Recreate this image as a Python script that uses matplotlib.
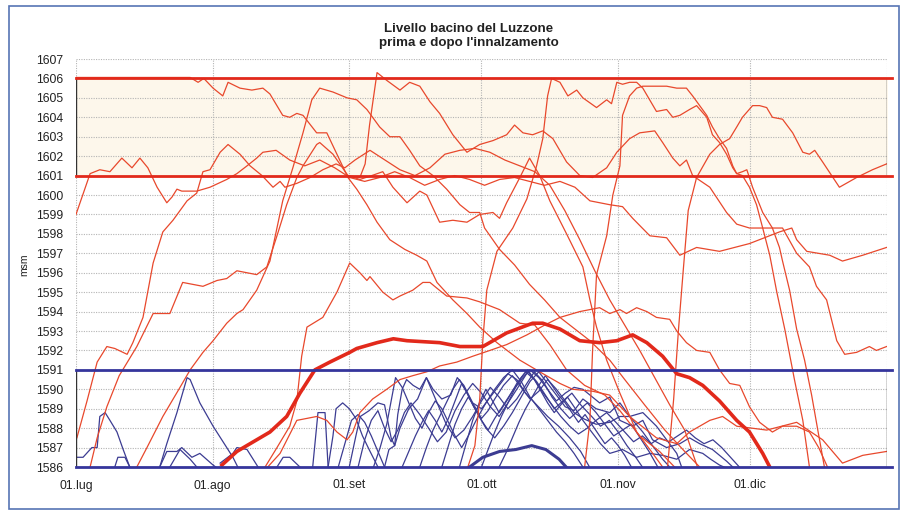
import matplotlib.pyplot as plt
from matplotlib.patches import Rectangle

plt.rcParams['font.family'] = ['Liberation Sans', 'DejaVu Sans']

# x = days since 1 July
month_days = [0, 31, 62, 92, 123, 153, 184]
month_labels = ['01.lug', '01.ago', '01.set', '01.ott', '01.nov', '01.dic', '']
levels = list(range(1586, 1608))
season_end = 184

after_band = (1601, 1606)   # after the raising
before_band = (1586, 1591)  # before the raising

# ---- after the raising (red), one list per year: (day, level msm)
red_1 = [(0, 1606.05), (25.9, 1606.05), (27.7, 1605.8), (29.0, 1606.0), (31.1, 1605.5), (33.3, 1605.1),
         (34.5, 1605.8), (37.2, 1605.5), (39.9, 1605.4), (42.4, 1605.5), (44.0, 1605.2), (46.9, 1604.1),
         (48.5, 1604.0), (50.1, 1604.2), (51.5, 1604.1), (54.6, 1603.2), (56.9, 1603.2), (59.2, 1602.1),
         (61.7, 1600.9), (63.7, 1600.3), (66.0, 1599.5), (68.3, 1598.6), (71.2, 1597.7), (74.6, 1597.2),
         (77.3, 1596.9), (79.6, 1596.6), (81.9, 1595.5), (85.5, 1594.6), (88.7, 1593.9), (91.6, 1593.2),
         (95.5, 1592.4), (100.7, 1591.5), (105.2, 1590.9), (109.8, 1590.3), (112.7, 1590.0), (117.2, 1589.9),
         (121.1, 1589.7), (125.6, 1588.6), (131.7, 1587.5), (136.3, 1587.2), (139.2, 1587.8), (143.8, 1588.4),
         (146.7, 1588.6), (149.9, 1588.1), (156.7, 1587.9), (163.5, 1588.3), (169.4, 1587.4), (173.9, 1586.2),
         (178.5, 1586.6), (183.9, 1586.8)]
red_2 = [(0, 1599.0), (3.2, 1601.1), (5.4, 1601.3), (7.7, 1601.2), (10.4, 1601.9), (12.7, 1601.4), (14.5, 1601.9),
         (16.3, 1601.4), (18.4, 1600.4), (20.6, 1599.6), (21.8, 1599.9), (22.9, 1600.3), (24.0, 1600.2),
         (27.4, 1600.2), (30.4, 1600.4), (34.2, 1600.8), (36.5, 1601.1), (38.8, 1601.5), (41.0, 1601.9),
         (42.4, 1602.2), (45.4, 1602.3), (48.5, 1601.8), (51.9, 1601.5), (55.3, 1601.8), (58.7, 1601.4),
         (62.1, 1600.9), (65.5, 1600.7), (68.9, 1600.9), (72.3, 1601.2), (75.7, 1600.9), (79.1, 1600.5),
         (82.5, 1600.8), (85.9, 1601.0), (89.3, 1600.8), (92.7, 1600.5), (96.1, 1600.8), (99.5, 1600.9),
         (102.9, 1600.7), (106.3, 1600.5), (109.8, 1600.7), (113.2, 1600.4), (116.6, 1599.7), (121.1, 1599.5),
         (124.0, 1599.4), (126.3, 1598.8), (130.2, 1597.9), (134.0, 1597.8), (137.0, 1596.9), (140.8, 1597.3),
         (146.0, 1597.1), (152.8, 1597.5), (159.6, 1598.1), (162.4, 1598.3), (163.5, 1597.7), (165.8, 1597.1),
         (171.0, 1596.9), (173.9, 1596.6), (178.5, 1596.9), (183.9, 1597.3)]
red_3 = [(0.2, 1587.5), (2.5, 1589.4), (4.8, 1591.4), (7.0, 1592.2), (8.8, 1592.1), (11.6, 1591.8), (12.9, 1592.4),
         (15.2, 1593.7), (17.5, 1596.5), (19.7, 1598.1), (22.0, 1598.7), (25.2, 1599.7), (27.4, 1600.1),
         (28.8, 1601.2), (30.4, 1601.3), (32.7, 1602.2), (34.5, 1602.6), (37.2, 1602.1), (39.5, 1601.5),
         (42.2, 1601.0), (44.7, 1600.4), (46.3, 1600.7), (47.4, 1600.4), (50.1, 1600.6), (53.1, 1600.9),
         (56.0, 1601.3), (59.0, 1601.6), (61.0, 1601.4), (63.3, 1601.8), (66.7, 1602.3), (70.1, 1601.8),
         (73.5, 1601.3), (76.9, 1601.0), (80.3, 1601.4), (83.7, 1602.1), (87.1, 1602.3), (90.5, 1602.4),
         (93.9, 1602.2), (97.3, 1601.8), (100.7, 1601.5), (104.1, 1601.2), (107.5, 1600.5), (110.9, 1599.2),
         (114.3, 1597.7), (117.7, 1596.1), (121.1, 1594.6), (124.5, 1593.3), (127.9, 1592.0), (131.3, 1590.6),
         (134.7, 1589.2), (138.1, 1587.9), (141.0, 1586.0)]
red_4 = [(42.9, 1586.0), (45.6, 1587.0), (48.5, 1588.1), (50.1, 1589.4), (51.2, 1591.7), (52.4, 1593.2),
         (56.0, 1593.7), (59.2, 1595.0), (62.1, 1596.5), (64.4, 1596.0), (66.0, 1595.6), (66.7, 1595.8),
         (69.6, 1595.0), (71.9, 1594.6), (73.5, 1594.8), (76.4, 1595.1), (78.7, 1595.5), (80.3, 1595.5),
         (81.9, 1595.2), (84.1, 1594.8), (88.7, 1594.7), (91.6, 1594.5), (96.1, 1594.1), (100.7, 1593.4),
         (104.1, 1593.3), (107.5, 1592.3), (111.3, 1591.0), (115.4, 1590.2), (120.0, 1589.7), (123.4, 1588.9),
         (127.9, 1587.6), (132.4, 1586.8), (135.8, 1586.0)]
red_5 = [(61.7, 1601.0), (64.4, 1600.9), (65.6, 1601.6), (66.6, 1603.6), (68.3, 1606.3), (70.5, 1605.9),
         (73.5, 1605.4), (75.7, 1605.8), (78.0, 1605.6),
         (80.3, 1604.8), (82.5, 1604.2), (85.5, 1603.1), (88.7, 1602.2), (91.6, 1602.6), (94.6, 1602.8),
         (97.7, 1603.1), (99.5, 1603.6), (101.4, 1603.2), (103.6, 1603.1), (105.9, 1603.3), (108.2, 1602.9),
         (111.3, 1601.7), (114.3, 1601.0), (117.2, 1600.9), (120.4, 1601.4), (122.7, 1602.2), (125.6, 1602.9),
         (127.9, 1603.2), (131.3, 1603.3), (133.1, 1602.7), (135.4, 1601.9), (137.0, 1601.5), (138.5, 1601.8),
         (139.9, 1601.0), (143.8, 1600.4), (147.6, 1599.1), (149.9, 1598.5), (152.8, 1598.3), (157.4, 1598.3),
         (160.3, 1598.3), (163.5, 1597.0), (166.4, 1596.3), (168.0, 1595.3), (170.3, 1594.6), (172.6, 1592.5),
         (174.4, 1591.8), (177.1, 1591.9), (180.0, 1592.2), (181.6, 1592.0), (183.9, 1592.2)]
red_6 = [(3.2, 1586.0), (4.8, 1587.5), (7.0, 1589.1), (9.8, 1590.7), (13.8, 1592.2), (17.5, 1593.9),
         (21.3, 1593.9), (24.2, 1595.5), (28.8, 1595.3), (32.0, 1595.6), (34.2, 1595.7), (36.5, 1596.1),
         (41.0, 1595.9), (43.3, 1596.3), (45.6, 1597.9), (47.8, 1599.5), (50.1, 1600.9), (51.5, 1601.5),
         (54.6, 1602.6), (55.3, 1602.7), (58.3, 1602.1), (61.7, 1601.0), (64.4, 1600.8), (67.1, 1601.0),
         (69.6, 1601.2), (71.9, 1600.4), (75.1, 1599.6), (78.0, 1600.2), (79.6, 1600.0), (82.5, 1598.6),
         (85.5, 1598.7), (88.7, 1598.6), (91.6, 1599.0), (94.6, 1599.1), (96.1, 1598.8), (97.7, 1599.6),
         (100.7, 1600.9), (102.9, 1601.9), (105.2, 1601.0), (107.5, 1599.7), (111.3, 1598.0), (115.0, 1596.3),
         (116.6, 1594.6), (118.1, 1593.2), (120.4, 1591.5), (123.4, 1589.8), (127.2, 1587.8), (130.2, 1586.9),
         (133.1, 1586.0)]
red_7 = [(13.8, 1586.0), (16.1, 1587.0), (19.7, 1588.6), (23.6, 1590.1), (25.9, 1591.0), (28.8, 1591.9),
         (31.1, 1592.5), (34.2, 1593.4), (36.5, 1593.9), (37.9, 1594.1), (41.0, 1595.1), (42.4, 1595.8),
         (44.0, 1596.6), (46.9, 1599.7), (49.2, 1601.4), (51.5, 1603.2), (53.5, 1604.9), (55.3, 1605.5),
         (58.3, 1605.3), (61.5, 1605.0), (63.7, 1604.9), (66.0, 1604.4), (68.9, 1603.5), (71.2, 1603.0),
         (73.5, 1603.0), (75.7, 1602.3), (78.0, 1601.5), (81.0, 1601.0), (84.1, 1600.3), (87.1, 1599.5),
         (89.3, 1599.1), (91.6, 1599.1), (92.7, 1598.3), (96.1, 1597.2), (99.5, 1596.4), (102.9, 1595.4),
         (106.3, 1594.6), (109.8, 1593.7), (113.2, 1593.1), (116.6, 1592.5), (121.1, 1591.5), (124.5, 1590.5),
         (129.0, 1589.2), (133.6, 1587.9), (138.1, 1586.8), (141.5, 1586.0)]
red_8 = [(88.9, 1586.0), (90.5, 1587.1), (91.6, 1589.5), (92.3, 1592.5), (93.2, 1595.1), (95.5, 1597.1),
         (99.1, 1598.3), (102.3, 1599.8), (104.5, 1601.5), (105.9, 1602.9), (107.0, 1605.1), (107.9, 1606.0),
         (109.8, 1605.8), (111.6, 1605.1), (113.6, 1605.4), (115.0, 1605.0), (118.1, 1604.5), (120.4, 1604.9),
         (121.5, 1604.7), (122.7, 1605.8), (124.0, 1605.7), (125.6, 1605.8), (127.2, 1605.8), (128.6, 1605.5),
         (131.7, 1604.3), (134.0, 1604.4), (135.4, 1604.0), (137.0, 1604.1), (139.2, 1604.4), (140.8, 1604.6),
         (143.1, 1604.0), (144.4, 1603.1), (146.0, 1602.7), (147.6, 1602.1), (149.0, 1601.4), (149.9, 1601.1),
         (151.2, 1601.2), (152.2, 1601.3), (153.5, 1600.4), (155.8, 1599.1), (158.0, 1598.3), (159.6, 1597.3),
         (160.3, 1596.6), (161.9, 1595.1), (163.5, 1593.1), (165.3, 1591.5), (166.9, 1589.7), (168.3, 1587.9),
         (169.8, 1586.0)]
red_9 = [(43.5, 1586.0), (46.3, 1586.7), (50.1, 1588.4), (54.6, 1588.6), (56.9, 1588.4), (59.2, 1587.8),
         (61.5, 1587.4), (62.8, 1587.8), (64.4, 1588.8), (67.3, 1589.5), (70.5, 1590.0), (73.5, 1590.5),
         (76.4, 1590.7), (79.6, 1590.9), (82.5, 1591.2), (86.4, 1591.4), (90.0, 1591.7), (93.9, 1592.0),
         (97.7, 1592.3), (102.3, 1592.8), (106.3, 1593.3), (109.8, 1593.7), (114.3, 1594.0), (118.8, 1594.2),
         (121.1, 1593.9), (123.4, 1594.1), (124.9, 1593.9), (127.2, 1594.2), (129.5, 1594.0), (131.7, 1593.7),
         (134.7, 1593.6), (136.3, 1593.0), (138.5, 1592.4), (140.8, 1592.0), (143.8, 1591.9), (146.0, 1591.0),
         (148.3, 1590.3), (150.6, 1590.2), (152.8, 1589.1), (155.1, 1588.3), (158.0, 1587.8), (160.3, 1588.1),
         (163.5, 1588.1), (166.4, 1587.8), (168.5, 1587.0), (170.5, 1586.0)]
red_10 = [(115.4, 1586.0), (116.6, 1588.4), (117.2, 1592.0), (118.1, 1595.9), (120.4, 1597.9), (121.8, 1600.0),
          (123.4, 1601.5), (124.0, 1604.1), (125.6, 1605.1), (127.2, 1605.5), (128.6, 1605.6), (130.8, 1605.6),
          (134.0, 1605.6), (136.3, 1605.5), (138.5, 1605.5), (139.9, 1605.1), (141.5, 1604.6), (143.1, 1604.1),
          (144.4, 1603.5), (146.0, 1602.9), (147.6, 1602.4), (149.0, 1601.5), (149.9, 1601.1), (151.2, 1601.0),
          (152.8, 1600.4), (154.4, 1599.5), (155.8, 1598.3), (157.4, 1596.9), (159.0, 1595.0), (160.8, 1593.1),
          (163.0, 1590.5), (164.9, 1588.4), (166.4, 1586.0)]
red_11 = [(134.2, 1586.0), (135.6, 1589.5), (136.7, 1593.1), (137.8, 1596.2), (138.9, 1599.2), (140.8, 1600.9),
          (143.8, 1602.1), (146.0, 1602.6), (148.3, 1602.9), (149.9, 1603.5), (151.2, 1604.0), (153.5, 1604.6),
          (155.1, 1604.6), (156.7, 1604.5), (158.0, 1604.0), (160.3, 1603.9), (162.6, 1603.2), (164.9, 1602.2),
          (166.4, 1602.1), (167.6, 1602.3), (169.4, 1601.7), (173.2, 1600.4), (177.1, 1600.9), (180.7, 1601.3),
          (183.9, 1601.6)]
red_mean = [(33.1, 1586.1), (36.5, 1586.8), (44.0, 1587.8), (47.8, 1588.6), (50.8, 1589.8), (54.2, 1591.0),
            (57.6, 1591.4), (62.1, 1591.9), (63.7, 1592.1), (68.3, 1592.4), (72.0, 1592.6), (75.1, 1592.5),
            (82.5, 1592.4), (87.1, 1592.2), (92.3, 1592.2), (97.7, 1592.9), (103.6, 1593.4), (105.9, 1593.4),
            (109.8, 1593.1), (114.3, 1592.5), (118.8, 1592.4), (122.7, 1592.5), (126.3, 1592.8), (129.5, 1592.4),
            (133.1, 1591.7), (136.3, 1590.8), (139.2, 1590.6), (142.2, 1590.2), (146.0, 1589.4), (149.9, 1588.4),
            (152.8, 1587.8), (155.8, 1586.7), (157.4, 1586.0)]

# ---- before the raising (blue)
blue_1 = [(0.2, 1586.5), (1.6, 1586.5), (3.6, 1587.0), (4.8, 1587.0), (5.4, 1588.6), (6.6, 1588.8), (7.7, 1588.4),
          (9.3, 1587.8), (10.7, 1586.9), (12.2, 1586.0)]
blue_2 = [(8.8, 1586.0), (9.5, 1586.5), (11.1, 1586.5), (12.2, 1586.0)]
blue_3 = [(19.0, 1586.0), (20.6, 1587.2), (22.9, 1588.8), (25.2, 1590.6), (25.9, 1590.5), (28.1, 1589.3),
          (31.1, 1588.1), (34.2, 1587.0), (35.6, 1586.5), (36.7, 1586.0)]
blue_4 = [(19.0, 1586.0), (20.6, 1586.8), (22.9, 1586.8), (24.0, 1587.0), (26.3, 1586.5), (28.1, 1586.7),
          (31.1, 1586.1), (31.7, 1586.0)]
blue_5 = [(21.3, 1586.0), (23.6, 1586.9), (25.9, 1586.4), (27.4, 1586.0)]
blue_6 = [(32.7, 1586.2), (35.6, 1586.7), (36.5, 1587.0), (38.8, 1586.9), (41.3, 1586.0)]
blue_7 = [(45.6, 1586.0), (47.0, 1586.5), (48.5, 1586.5), (50.8, 1586.0)]
blue_8 = [(53.7, 1586.0), (54.9, 1588.8), (56.5, 1588.8), (57.2, 1586.0)]
blue_9 = [(57.2, 1586.0), (58.3, 1587.6), (59.0, 1589.0), (60.5, 1589.3), (62.0, 1589.0), (63.5, 1588.5),
          (65.0, 1587.6), (66.5, 1586.9), (68.5, 1586.0)]
blue_10 = [(59.5, 1586.0), (61.0, 1587.2), (62.5, 1588.4), (64.0, 1588.7), (65.5, 1588.3), (67.0, 1587.6),
           (68.5, 1586.8), (70.0, 1586.0)]
blue_11 = [(62.0, 1586.0), (63.5, 1587.6), (64.5, 1588.6), (66.5, 1588.9), (68.5, 1589.3), (70.0, 1589.2),
           (71.5, 1587.5), (72.3, 1587.1), (73.0, 1588.7), (74.0, 1590.0), (75.0, 1590.5), (76.5, 1590.2),
           (78.0, 1590.0), (79.5, 1590.6), (81.0, 1590.0), (83.0, 1589.5), (85.0, 1589.7), (86.5, 1590.6),
           (88.0, 1590.2), (90.0, 1589.3), (92.0, 1589.0), (94.0, 1589.6), (96.0, 1590.2), (98.0, 1590.8),
           (100.0, 1590.5), (102.0, 1589.8), (104.5, 1589.2), (107.0, 1588.6), (109.5, 1588.1), (112.0, 1587.5),
           (114.5, 1586.8), (116.5, 1586.0)]
blue_12 = [(64.0, 1586.0), (65.5, 1587.4), (67.0, 1588.4), (68.5, 1588.9), (70.0, 1588.0), (71.5, 1587.3),
           (73.0, 1587.9), (74.5, 1588.8), (76.0, 1589.3), (78.0, 1588.7), (80.0, 1588.0), (82.0, 1587.3),
           (84.0, 1587.8), (86.0, 1588.9), (88.0, 1589.7), (90.0, 1590.3), (92.0, 1589.8), (94.0, 1589.1),
           (96.0, 1588.6), (98.0, 1589.3), (100.0, 1590.0), (102.5, 1590.9), (104.5, 1590.4), (106.5, 1589.7),
           (108.5, 1589.0), (110.5, 1589.4), (112.5, 1589.8), (114.5, 1589.2), (117.0, 1588.6), (119.0, 1588.1),
           (121.0, 1588.4), (123.0, 1587.8), (125.0, 1587.1), (127.0, 1586.5), (128.5, 1586.0)]
blue_13 = [(67.5, 1586.0), (69.0, 1587.0), (70.5, 1588.2), (71.5, 1589.4), (72.5, 1590.6), (74.0, 1590.1),
           (75.5, 1589.3), (77.0, 1588.5), (78.5, 1588.0), (80.0, 1588.8), (81.5, 1589.4), (83.0, 1589.0),
           (84.5, 1588.3), (86.0, 1587.6), (87.5, 1587.0), (89.0, 1587.6), (91.0, 1588.5), (93.0, 1589.3),
           (95.0, 1590.0), (97.0, 1590.6), (99.0, 1591.0), (101.0, 1590.4), (103.0, 1589.6), (105.0, 1589.0),
           (107.0, 1588.4), (109.0, 1587.8), (111.0, 1587.3), (113.0, 1586.7), (115.0, 1586.0)]
blue_14 = [(70.0, 1586.0), (71.0, 1586.9), (72.3, 1587.1), (73.5, 1588.0), (75.5, 1589.0), (77.5, 1589.5),
           (79.5, 1590.6), (81.0, 1589.8), (82.5, 1589.0), (84.0, 1588.2), (86.0, 1587.5), (88.0, 1587.9),
           (90.0, 1588.6), (92.0, 1589.4), (94.0, 1590.1), (96.0, 1589.6), (98.0, 1589.0), (100.0, 1589.5),
           (102.0, 1590.2), (104.0, 1590.9), (106.0, 1590.4), (108.0, 1589.6), (110.0, 1589.0), (112.0, 1588.5),
           (114.0, 1588.9), (116.0, 1589.3), (118.0, 1588.8), (120.0, 1588.2), (122.0, 1587.6), (124.0, 1587.9),
           (126.0, 1588.2), (128.0, 1587.5), (130.0, 1586.8), (132.0, 1586.0)]
blue_15 = [(74.0, 1586.0), (75.5, 1586.8), (77.0, 1587.6), (78.5, 1588.3), (80.0, 1588.9), (81.5, 1588.4),
           (83.0, 1587.8), (84.5, 1588.5), (86.0, 1589.4), (87.5, 1590.3), (89.0, 1589.7), (90.5, 1589.0),
           (92.0, 1588.4), (93.5, 1587.9), (95.0, 1588.5), (97.0, 1589.2), (99.0, 1589.9), (101.0, 1590.5),
           (103.0, 1591.0), (105.0, 1590.6), (107.0, 1590.0), (109.0, 1589.4), (111.0, 1589.8), (113.0, 1590.1),
           (115.0, 1590.0), (118.8, 1589.3), (121.1, 1589.6), (123.4, 1588.4), (126.3, 1588.1), (128.6, 1588.4),
           (130.8, 1587.4), (134.0, 1587.0), (137.0, 1587.2), (139.2, 1587.5), (141.5, 1587.2), (144.4, 1586.9),
           (147.6, 1586.3), (149.0, 1586.0)]
blue_16 = [(78.0, 1586.0), (79.5, 1587.0), (81.0, 1587.9), (82.5, 1588.6), (84.0, 1589.3), (85.5, 1590.0),
           (87.0, 1590.5), (88.5, 1589.9), (90.0, 1589.2), (91.5, 1588.6), (93.0, 1588.0), (95.0, 1587.5),
           (97.0, 1588.1), (99.0, 1588.8), (101.0, 1589.6), (103.0, 1590.4), (105.0, 1590.9), (107.0, 1590.3),
           (109.0, 1589.7), (111.0, 1589.1), (113.0, 1588.9), (115.0, 1589.5), (118.0, 1589.0), (121.1, 1588.8),
           (123.4, 1589.3), (125.6, 1588.6), (128.6, 1587.8), (130.8, 1587.1), (133.1, 1586.4), (134.7, 1586.0)]
blue_17 = [(83.0, 1586.0), (84.5, 1587.1), (86.0, 1588.2), (87.5, 1589.0), (89.0, 1589.6), (90.5, 1589.1),
           (92.0, 1588.5), (93.5, 1588.9), (95.0, 1589.5), (97.0, 1590.2), (99.0, 1590.7), (101.0, 1590.1),
           (103.0, 1589.5), (105.0, 1589.9), (107.0, 1590.5), (109.0, 1590.0), (111.0, 1589.4), (113.0, 1588.8),
           (115.0, 1588.5), (118.0, 1588.2), (121.1, 1588.3), (123.4, 1588.6), (125.6, 1588.6), (128.6, 1588.8),
           (131.7, 1588.1), (134.0, 1587.4), (136.3, 1586.7), (137.4, 1586.0)]
blue_18 = [(87.0, 1586.0), (88.5, 1587.2), (90.0, 1588.4), (91.5, 1589.3), (93.0, 1590.0), (94.5, 1589.4),
           (96.0, 1588.8), (98.0, 1589.5), (100.0, 1590.3), (102.0, 1590.9), (104.0, 1590.5), (106.0, 1589.8),
           (108.0, 1589.2), (110.0, 1588.6), (112.0, 1588.1), (114.0, 1587.7), (116.0, 1588.0), (118.0, 1588.4),
           (120.4, 1588.8), (122.5, 1588.3), (124.5, 1587.8), (126.5, 1587.3), (128.5, 1587.6), (130.5, 1587.2),
           (132.4, 1587.5), (134.5, 1587.3), (136.5, 1587.6), (138.5, 1587.9), (140.5, 1587.5), (142.5, 1587.2),
           (144.5, 1587.4), (146.5, 1587.0), (148.5, 1586.5), (150.5, 1586.0)]
blue_19 = [(92.0, 1586.0), (93.5, 1586.9), (95.0, 1587.8), (96.5, 1588.6), (98.0, 1589.3), (99.5, 1590.0),
           (101.0, 1590.6), (102.5, 1591.0), (104.0, 1590.5), (105.5, 1589.9), (107.0, 1589.3), (108.5, 1588.8),
           (110.0, 1589.2), (111.5, 1589.6), (113.0, 1589.1), (115.0, 1588.4), (117.0, 1587.8), (119.0, 1587.2),
           (121.1, 1586.7), (124.0, 1586.9), (127.2, 1586.5), (130.2, 1586.7), (133.1, 1586.6), (136.3, 1586.4),
           (139.2, 1586.9), (142.2, 1586.7), (144.0, 1586.4), (146.0, 1586.1), (147.0, 1586.0)]
blue_20 = [(96.0, 1586.0), (97.5, 1586.7), (99.0, 1587.5), (100.5, 1588.3), (102.0, 1589.0), (103.5, 1589.6),
           (105.0, 1590.2), (106.5, 1590.7), (108.0, 1590.2), (109.5, 1589.7), (111.0, 1589.3), (112.5, 1588.8),
           (114.0, 1588.3), (115.5, 1588.7), (117.0, 1588.2), (118.5, 1587.7), (120.0, 1587.2), (121.5, 1587.5),
           (123.0, 1587.1), (124.5, 1586.6), (126.0, 1586.0)]
blue_mean = [(89.3, 1586.0), (92.3, 1586.5), (96.1, 1586.8), (99.8, 1586.9), (103.4, 1587.1), (106.6, 1586.9),
             (109.6, 1586.4), (111.2, 1586.0)]

red_years = [red_1, red_2, red_3, red_4, red_5, red_6, red_7, red_8, red_9, red_10, red_11]
blue_years = [blue_1, blue_2, blue_3, blue_4, blue_5, blue_6, blue_7, blue_8, blue_9, blue_10,
              blue_11, blue_12, blue_13, blue_14, blue_15, blue_16, blue_17, blue_18, blue_19, blue_20]

RED = '#e8482c'
RED_BAND = '#e2291b'
BLUE = '#3c3c92'
BLUE_BAND = '#35359c'

fig = plt.figure(figsize=(9.01, 5.12), dpi=100)
ax = fig.add_axes([76 / 901, 1 - 467 / 512, 811 / 901, 408 / 512])
ax.set_xlim(0, season_end)
ax.set_ylim(1586, 1607)

ax.fill_between([0, season_end], after_band[0], after_band[1], color='#fdf7eb', zorder=0)
ax.hlines(levels, 0, season_end, colors='#b4b4b4', linestyles=(0, (1, 1.2)), lw=0.8, zorder=1)
ax.vlines(month_days, 1586, 1607, colors='#b4b4b4', linestyles=(0, (1, 1.2)), lw=0.8, zorder=1)

for yr in blue_years:
    xs, ys = zip(*yr)
    ax.plot(xs, ys, color=BLUE, lw=0.9, zorder=3)
for yr in red_years:
    xs, ys = zip(*yr)
    ax.plot(xs, ys, color=RED, lw=0.9, zorder=4)

xs, ys = zip(*blue_mean)
ax.plot(xs, ys, color=BLUE, lw=2.2, zorder=5)
xs, ys = zip(*red_mean)
ax.plot(xs, ys, color=RED_BAND, lw=2.6, zorder=6)

# bands of operation
for lvl in after_band:
    ax.plot([0, season_end + 1.2], [lvl, lvl], color=RED_BAND, lw=2.0, clip_on=False, zorder=7)
for lvl in before_band:
    ax.plot([0, season_end + 1.2], [lvl, lvl], color=BLUE_BAND, lw=2.0, clip_on=False, zorder=7)
ax.vlines([0, season_end], after_band[0], after_band[1], colors='#333333', lw=1.0, zorder=6)
ax.vlines([0, season_end], before_band[0], before_band[1], colors='#333333', lw=1.0, zorder=6)

for s in ax.spines.values():
    s.set_visible(False)
ax.set_yticks(levels)
ax.set_xticks(month_days)
ax.set_xticklabels(month_labels)
ax.tick_params(length=0, labelsize=8.8, colors='#222222', pad=9)

fig.text(469 / 901, 1 - 36 / 512, "Livello bacino del Luzzone\nprima e dopo l'innalzamento",
         ha='center', va='center', fontsize=9.6, fontweight='bold', linespacing=1.25, color='#222222')
fig.text(24 / 901, 1 - 265 / 512, 'msm', rotation=90, ha='center', va='center', fontsize=7.5, color='#222222')

fig.add_artist(Rectangle((9 / 901, 3 / 512), 890 / 901, 503 / 512, transform=fig.transFigure,
                         fill=False, edgecolor='#5674b4', lw=1.2))

fig.savefig('out.png', dpi=100)
